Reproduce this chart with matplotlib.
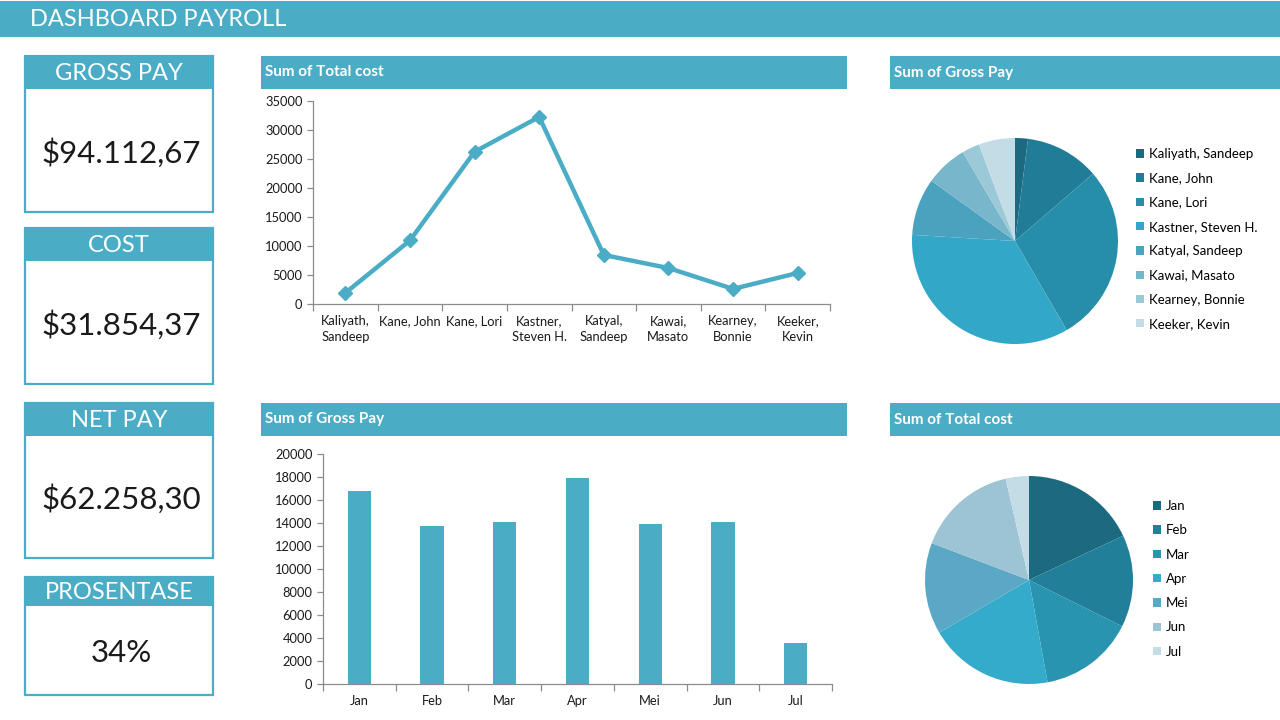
from matplotlib import pyplot as plt
from matplotlib.patches import Rectangle
import numpy as np

# ---- data ----
employees = ['Kaliyath,\nSandeep', 'Kane, John', 'Kane, Lori', 'Kastner,\nSteven H.',
             'Katyal,\nSandeep', 'Kawai,\nMasato', 'Kearney,\nBonnie', 'Keeker,\nKevin']
employee_names = ['Kaliyath, Sandeep', 'Kane, John', 'Kane, Lori', 'Kastner, Steven H.',
                  'Katyal, Sandeep', 'Kawai, Masato', 'Kearney, Bonnie', 'Keeker, Kevin']
employee_pay = [1900, 10950, 26250, 32250, 8450, 6200, 2600, 5350]

months = ['Jan', 'Feb', 'Mar', 'Apr', 'Mei', 'Jun', 'Jul']
month_gross = [16800, 13700, 14100, 17950, 13950, 14050, 3550]
month_cost = [5730, 4560, 4710, 6180, 4520, 4970, 1150]

kpi_titles = ['GROSS PAY', 'COST', 'NET PAY', 'PROSENTASE']
kpi_values = ['$94.112,67', '$31.854,37', '$62.258,30', '34%']

# ---- style ----
TEAL = '#4BACC6'
TEXT = '#1a1a1a'
AXIS = '#8c8c8c'
pie_colors_emp = ['#1c6a80', '#217d97', '#268ea9', '#32a7c8', '#4aa2bf', '#78b6cb', '#9cc9d8', '#c4dce6']
pie_colors_mon = ['#1c6a80', '#227f99', '#2894b0', '#35abcc', '#5aa8c6', '#9cc4d4', '#c4dce6']

W, H = 1280, 720
plt.rcParams['font.family'] = ['Lato', 'DejaVu Sans']

fig = plt.figure(figsize=(12.8, 7.2), dpi=100)
fig.patch.set_facecolor('white')


def px(x0, y0, x1, y1):
    # pixel box (top-left origin) -> figure fraction
    return [x0 / W, 1 - y1 / H, (x1 - x0) / W, (y1 - y0) / H]


# background layer in pixel coordinates
bg = fig.add_axes([0, 0, 1, 1])
bg.set_xlim(0, W)
bg.set_ylim(H, 0)
bg.axis('off')

bg.add_patch(Rectangle((0, 1), W, 36, color=TEAL, lw=0))
bg.text(30, 20, 'DASHBOARD PAYROLL', color='white', fontsize=17, va='center', ha='left')

# KPI boxes
kpi_boxes = [(56, 89, 212), (228, 261, 384), (403, 436, 558), (577, 606, 695)]
for (top, mid, bot), title, value in zip(kpi_boxes, kpi_titles, kpi_values):
    bg.add_patch(Rectangle((25, top), 188, bot - top, facecolor='white', edgecolor=TEAL, lw=1.6))
    bg.add_patch(Rectangle((25, top), 188, mid - top, color=TEAL, lw=0))
    bg.text(119, (top + mid) / 2 + 1, title, color='white', fontsize=17,
            ha='center', va='center')
    bg.text(121, (mid + bot) / 2 + 2, value, color=TEXT, fontsize=22.5,
            ha='center', va='center')

# chart header bars
headers = [(261, 847, 56, 89, 'Sum of Total cost'), (890, 1280, 56, 89, 'Sum of Gross Pay'),
           (261, 847, 403, 436, 'Sum of Gross Pay'), (890, 1280, 403, 436, 'Sum of Total cost')]
for x0, x1, y0, y1, label in headers:
    bg.add_patch(Rectangle((x0, y0), x1 - x0, y1 - y0, color=TEAL, lw=0))
    bg.text(x0 + 4, (y0 + y1) / 2, label, color='white', fontsize=11, fontweight='bold',
            ha='left', va='center')


def style_axis(ax):
    for s in ['top', 'right']:
        ax.spines[s].set_visible(False)
    for s in ['left', 'bottom']:
        ax.spines[s].set_color(AXIS)
        ax.spines[s].set_linewidth(0.9)
    ax.tick_params(axis='y', colors=AXIS, labelcolor=TEXT, labelsize=9.3, length=4, width=0.9)
    ax.tick_params(axis='x', which='major', length=0, labelcolor=TEXT, labelsize=9.3, pad=8)
    ax.tick_params(axis='x', which='minor', length=5, width=0.9, colors=AXIS)
    ax.set_facecolor('none')


# line chart
ax1 = fig.add_axes(px(313, 101, 830, 304))
x = np.arange(len(employees))
ax1.plot(x, employee_pay, color=TEAL, lw=3.2, marker='D', markersize=7, solid_joinstyle='miter')
ax1.set_xlim(-0.5, len(employees) - 0.5)
ax1.set_ylim(0, 35000)
ax1.set_yticks(range(0, 35001, 5000))
ax1.set_xticks(x)
ax1.set_xticklabels(employees, linespacing=1.4)
ax1.set_xticks(np.arange(-0.5, len(employees), 1), minor=True)
style_axis(ax1)

# bar chart
ax2 = fig.add_axes(px(323, 454, 832, 684))
xm = np.arange(len(months))
ax2.bar(xm, month_gross, width=0.32, color=TEAL)
ax2.set_xlim(-0.5, len(months) - 0.5)
ax2.set_ylim(0, 20000)
ax2.set_yticks(range(0, 20001, 2000))
ax2.set_xticks(xm)
ax2.set_xticklabels(months)
ax2.set_xticks(np.arange(-0.5, len(months), 1), minor=True)
style_axis(ax2)

# pie charts
legend_kw = dict(loc='upper left', bbox_transform=fig.transFigure, frameon=False, fontsize=9.5,
                 handlelength=0.6, handleheight=0.6, handletextpad=0.4, labelspacing=0.93,
                 borderpad=0, borderaxespad=0)

ax3 = fig.add_axes(px(912, 138, 1118, 344))
w1, _ = ax3.pie(employee_pay, colors=pie_colors_emp, startangle=90, counterclock=False,
                wedgeprops={'linewidth': 0})
ax3.set_xlim(-1, 1)
ax3.set_ylim(-1, 1)
ax3.legend(w1, employee_names, bbox_to_anchor=(1136 / W, 1 - 148 / H), **legend_kw)

ax4 = fig.add_axes(px(925, 476, 1133, 684))
w2, _ = ax4.pie(month_cost, colors=pie_colors_mon, startangle=90, counterclock=False,
                wedgeprops={'linewidth': 0})
ax4.set_xlim(-1, 1)
ax4.set_ylim(-1, 1)
ax4.legend(w2, months, bbox_to_anchor=(1153 / W, 1 - 500 / H), **legend_kw)

fig.savefig('out.png', dpi=100, facecolor='white')
plt.close()
